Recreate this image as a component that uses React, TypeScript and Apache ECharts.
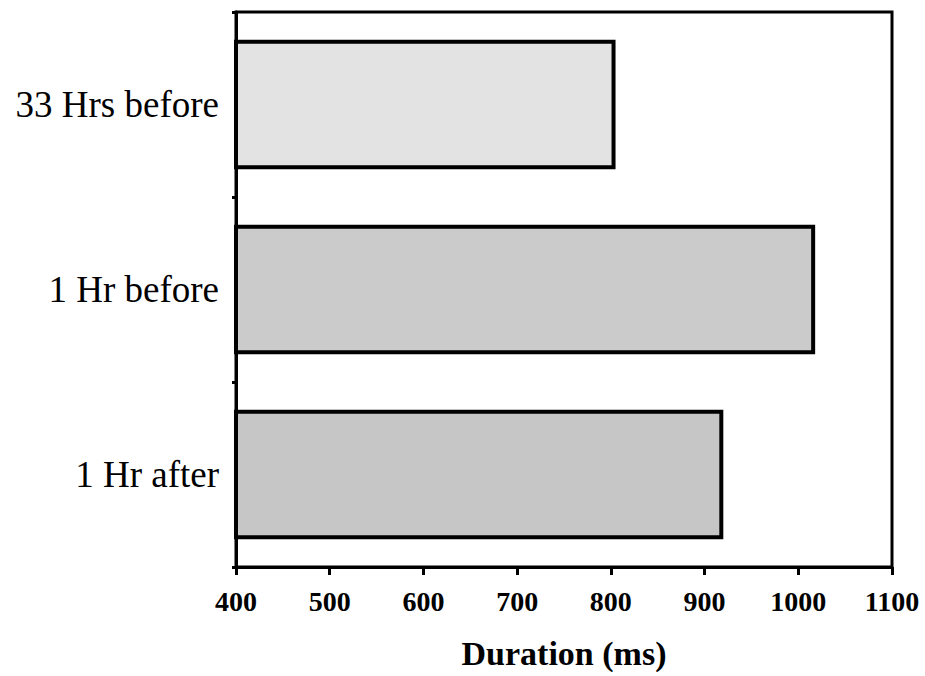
import React, { useEffect, useRef } from "react";
import * as echarts from "echarts";

const categories = ["33 Hrs before", "1 Hr before", "1 Hr after"];
const durations = [805, 1018, 920];
const barColors = ["#e3e3e3", "#cbcbcb", "#c6c6c6"];
const xTicks = { min: 400, max: 1100, interval: 100 };
const xName = "Duration (ms)";

const FONT = '"Liberation Serif", "Times New Roman", serif';

export default function App() {
  const ref = useRef<HTMLDivElement>(null);
  useEffect(() => {
    if (!ref.current) return;
    const chart = echarts.init(ref.current, null, { renderer: "svg" });
    chart.setOption({
      animation: false,
      backgroundColor: "#ffffff",
      grid: {
        left: 236,
        right: 33,
        top: 12,
        bottom: 109,
        outerBoundsMode: "none",
        containLabel: false,
        show: true,
        borderColor: "#000",
        borderWidth: 3,
        backgroundColor: "transparent",
      },
      xAxis: {
        type: "value",
        min: xTicks.min,
        max: xTicks.max,
        interval: xTicks.interval,
        name: xName,
        nameLocation: "middle",
        nameGap: 69,
        nameTextStyle: { fontFamily: FONT, fontSize: 34, fontWeight: "bold", color: "#000" },
        axisLine: { show: true, lineStyle: { color: "#000", width: 3 } },
        axisTick: { show: true, inside: false, length: 8, lineStyle: { color: "#000", width: 3 } },
        axisLabel: {
          fontFamily: FONT,
          fontSize: 28,
          fontWeight: "bold",
          color: "#000",
          margin: 20,
          formatter: (v: number) => String(v),
        },
        splitLine: { show: false },
      },
      yAxis: {
        type: "category",
        data: categories,
        inverse: true,
        axisLine: { show: true, lineStyle: { color: "#000", width: 3 } },
        axisTick: { show: true, inside: false, length: 4, lineStyle: { color: "#000", width: 3 } },
        axisLabel: { fontFamily: FONT, fontSize: 37, color: "#000", margin: 17 },
        splitLine: { show: false },
      },
      series: [
        {
          type: "bar",
          data: durations.map((v, i) => ({ value: v, itemStyle: { color: barColors[i] } })),
          barWidth: "70%",
          itemStyle: { borderColor: "#000", borderWidth: 4 },
        },
      ],
    });
    return () => chart.dispose();
  }, []);
  return (
    <div
      ref={ref}
      style={{ position: "fixed", left: 0, top: 0, width: 925, height: 676 }}
    />
  );
}
